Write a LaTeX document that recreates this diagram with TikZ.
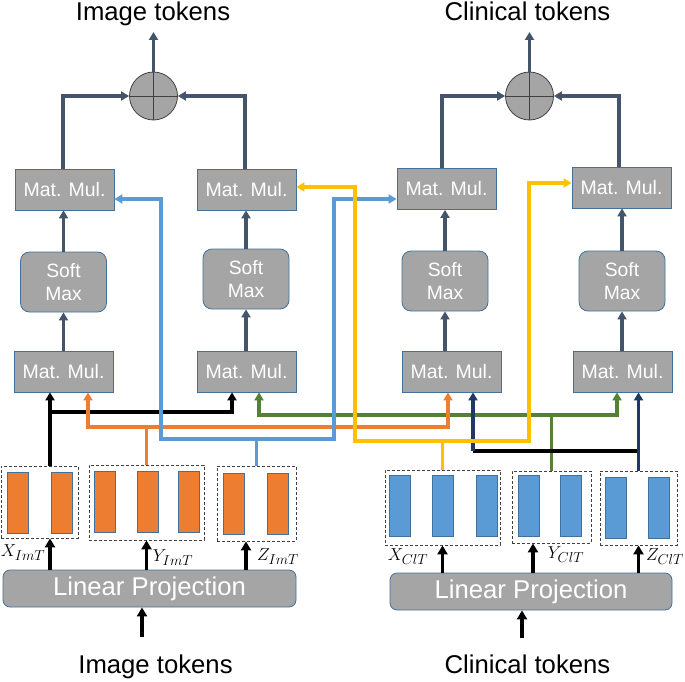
\documentclass[tikz,border=0pt]{standalone}
\usepackage{amsmath}
\usepackage{fontspec}
\setmainfont{Liberation Sans}
\usepackage{tikz}
\usetikzlibrary{arrows.meta, calc}
\DeclareMathSizes{18}{18}{14}{11}

\definecolor{boxgray}{HTML}{A5A5A5}
\definecolor{boxedge}{HTML}{41719C}
\definecolor{slate}{HTML}{44546A}
\definecolor{imgorange}{HTML}{ED7D31}
\definecolor{clinblue}{HTML}{5B9BD5}
\definecolor{gold}{HTML}{FFC000}
\definecolor{leaf}{HTML}{548235}
\definecolor{deepnavy}{HTML}{1F3864}

\tikzset{
  matmul/.style={rectangle, draw=boxedge, fill=boxgray, line width=0.8pt,
    minimum width=99, minimum height=41, inner sep=0pt, text=white,
    font=\fontsize{19.5}{22}\selectfont},
  softmax/.style={matmul, rounded corners=9, minimum width=86, minimum height=60,
    align=center, font=\fontsize{19.3}{23}\selectfont},
  linproj/.style={matmul, rounded corners=7, minimum height=37,
    font=\fontsize{25.7}{28}\selectfont},
  addnode/.style={circle, draw=black!75, fill=boxgray, line width=0.8pt,
    minimum size=48, inner sep=0pt},
  tokgroup/.style={rectangle, draw=black!75, dash pattern=on 3pt off 2pt,
    line width=0.8pt, inner sep=0pt},
  tokbar/.style={draw=boxedge, line width=0.6pt},
  title/.style={font=\fontsize{25.7}{28}\selectfont, anchor=base},
  lbl/.style={font=\fontsize{18}{21}\selectfont},
  flow/.style={line width=3.2pt, draw=slate},
  feed/.style={line width=3.2pt, draw=black, -{Triangle[length=9pt,width=10pt]}},
  kline/.style={line width=3.2pt, draw=black},
  oline/.style={line width=3.2pt, draw=imgorange},
  bline/.style={line width=3.2pt, draw=clinblue},
  yline/.style={line width=3.2pt, draw=gold},
  gline/.style={line width=3.2pt, draw=leaf},
  nline/.style={line width=3.2pt, draw=deepnavy}
}

\begin{document}
\begin{tikzpicture}[x=1pt, y=-1pt, >={Triangle[length=8pt,width=9pt]}]
  \useasboundingbox (0,0) rectangle (685,682);

  % Titles
  \node[title] (titleImgOut) at (153,20.5) {Image tokens};
  \node[title] (titleClinOut) at (527.5,20.5) {Clinical tokens};
  \node[title] (titleImgIn) at (155.5,673) {Image tokens};
  \node[title] (titleClinIn) at (527.5,673) {Clinical tokens};

  % Sum nodes
  \node[addnode] (sumImg) at (153.5,96) {};
  \node[addnode] (sumClin) at (529.5,96) {};
  \draw[black!75, line width=0.8pt] (sumImg.north) -- (sumImg.south) (sumImg.west) -- (sumImg.east);
  \draw[black!75, line width=0.8pt] (sumClin.north) -- (sumClin.south) (sumClin.west) -- (sumClin.east);

  % Upper Mat. Mul. boxes
  \node[matmul] (mulTopI1) at (64.5,189.5) {Mat. Mul.};
  \node[matmul] (mulTopI2) at (246.5,189.5) {Mat. Mul.};
  \node[matmul] (mulTopC1) at (446.5,189) {Mat. Mul.};
  \node[matmul] (mulTopC2) at (621.5,187.5) {Mat. Mul.};

  % Soft Max boxes
  \node[softmax] (softI1) at (63.5,282) {Soft\\Max};
  \node[softmax] (softI2) at (246,279) {Soft\\Max};
  \node[softmax] (softC1) at (445,281) {Soft\\Max};
  \node[softmax] (softC2) at (622,281) {Soft\\Max};

  % Lower Mat. Mul. boxes
  \node[matmul] (mulLowI1) at (63.5,371.5) {Mat. Mul.};
  \node[matmul] (mulLowI2) at (246.5,371.5) {Mat. Mul.};
  \node[matmul] (mulLowC1) at (451.5,371.5) {Mat. Mul.};
  \node[matmul] (mulLowC2) at (622.5,371.5) {Mat. Mul.};

  % Token groups
  \node[tokgroup, minimum width=77, minimum height=72] (grpXI) at (39.5,502) {};
  \node[tokgroup, minimum width=115, minimum height=75] (grpYI) at (146.5,502.5) {};
  \node[tokgroup, minimum width=79, minimum height=75] (grpZI) at (256.5,503.5) {};
  \node[tokgroup, minimum width=115, minimum height=75] (grpXC) at (442.5,507.5) {};
  \node[tokgroup, minimum width=79, minimum height=72] (grpYC) at (551.5,507) {};
  \node[tokgroup, minimum width=77, minimum height=74] (grpZC) at (638.5,508) {};

  % Draw the token bars
  \foreach \x/\y in {18/502.5, 62/502.5, 105/502, 147.5/502, 189/502, 233.5/503.5, 278/503.5}
    \filldraw[tokbar, fill=imgorange] (\x-10.5,\y-30.5) rectangle (\x+10.5,\y+30.5);
  \foreach \x/\y in {399.5/506, 443/506, 486.5/506, 528.5/506, 570.5/506, 615.5/507.5, 658.5/507.5}
    \filldraw[tokbar, fill=clinblue] (\x-10.5,\y-30.5) rectangle (\x+10.5,\y+30.5);

  % Linear projections
  \node[linproj, minimum width=293] (projImg) at (149.5,588.5) {Linear Projection};
  \node[linproj, minimum width=282] (projClin) at (531,591.5) {Linear Projection};

  % Label the inputs
  \node[lbl] (labXI) at (23,553) {$X_{ImT}$};
  \node[lbl] (labYI) at (173,558) {$Y_{ImT}$};
  \node[lbl] (labZI) at (278,557) {$Z_{ImT}$};
  \node[lbl] (labXC) at (408,557) {$X_{ClT}$};
  \node[lbl] (labYC) at (566,555) {$Y_{ClT}$};
  \node[lbl] (labZC) at (665,557) {$Z_{ClT}$};

  % Inputs into the projections and groups
  \draw[feed] (142,637) -- (projImg.south -| 142,0);
  \draw[feed] (522,638) -- (projClin.south -| 522,0);
  \draw[feed] (projImg.north -| 50,0) -- (grpXI.south -| 50,0);
  \draw[feed] (projImg.north -| grpYI.south) -- (grpYI.south);
  \draw[feed] (projImg.north -| 246,0) -- (grpZI.south -| 246,0);
  \draw[feed] (projClin.north -| grpXC.south) -- (grpXC.south);
  \draw[feed] (projClin.north -| 533,0) -- (grpYC.south -| 533,0);
  \draw[feed] (projClin.north -| grpZC.south) -- (grpZC.south);

  % Heads: Mat. Mul. -> Soft Max -> Mat. Mul. -> sum
  \foreach \h in {I1,I2,C1,C2} {
    \draw[flow,->] (soft\h.south |- mulLow\h.north) -- (soft\h.south);
    \draw[flow,->] (soft\h.north) -- (soft\h.north |- mulTop\h.south);
  }
  \draw[flow,->] (mulTopI1.north -| 63,0) |- (sumImg.west);
  \draw[flow,->] (mulTopI2.north -| 245,0) |- (sumImg.east);
  \draw[flow,->] (mulTopC1.north -| 442,0) |- (sumClin.west);
  \draw[flow,->] (mulTopC2.north -| 619,0) |- (sumClin.east);
  \draw[flow,->] (sumImg.north) -- (sumImg.north |- 0,32);
  \draw[flow,->] (sumClin.north) -- (sumClin.north |- 0,32);

  % Cross connections
  \draw[kline,->] (grpXI.north -| 50,0) -- (mulLowI1.south -| 50,0);
  \draw[kline,->] (50,412) -| (mulLowI2.south -| 232,0);

  \draw[gline] (grpYC.north) -- (grpYC.north |- 0,415);
  \draw[gline,<->] (mulLowI2.south -| 259,0) |- (617,415) -- (mulLowC2.south -| 617,0);

  \draw[oline] (grpYI.north) -- (grpYI.north |- 0,427);
  \draw[oline,<->] (mulLowI1.south -| 88,0) |- (448,427) -- (mulLowC1.south -| 448,0);

  \draw[kline] (473,451) -- (grpZC.north |- 0,451);
  \draw[nline,->] (grpZC.north) -- (mulLowC2.south -| grpZC.north);
  \draw[nline,->] (473,451) -- (mulLowC1.south -| 473,0);

  \draw[bline] (grpZI.north) -- (grpZI.north |- 0,439);
  \draw[bline,<->] (mulTopI1.east |- 0,199) -| (161,439) -- (334,439) |- (mulTopC1.west |- 0,199);

  \draw[yline] (grpXC.north) -- (grpXC.north |- 0,441);
  \draw[yline,<->] (mulTopI2.east |- 0,187) -| (355,441) -- (529,441) |- (mulTopC2.west |- 0,183);
\end{tikzpicture}
\end{document}
